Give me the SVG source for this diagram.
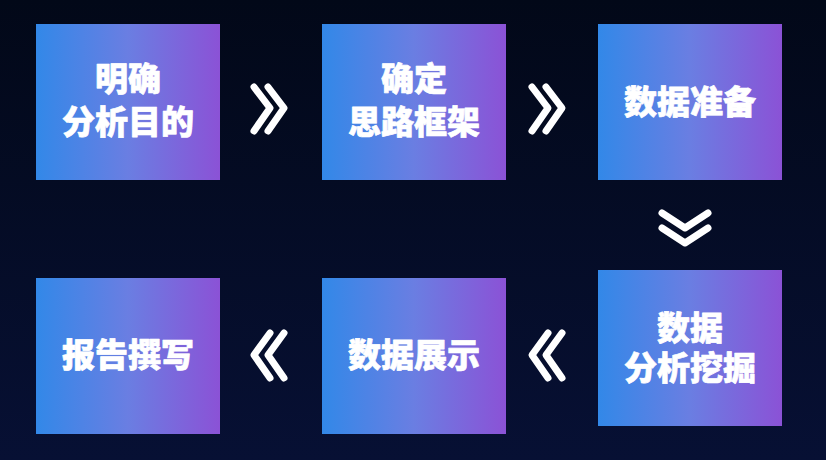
<svg xmlns="http://www.w3.org/2000/svg" width="826" height="460" viewBox="0 0 826 460">
  <defs>
    <linearGradient id="bg" x1="0" y1="0" x2="0" y2="1">
      <stop offset="0" stop-color="#020818"/>
      <stop offset="1" stop-color="#071034"/>
    </linearGradient>
    <linearGradient id="box" x1="0" y1="0" x2="1" y2="0">
      <stop offset="0" stop-color="#3288e8"/>
      <stop offset="0.5" stop-color="#6a7ee2"/>
      <stop offset="1" stop-color="#8b52d6"/>
    </linearGradient>
    <style>
      .node rect { fill: url(#box); }
      .node text { fill: #ffffff; stroke: #ffffff; stroke-width: 0.7px; stroke-linejoin: round; font-family: "Noto Sans CJK SC", "Noto Sans", sans-serif; font-weight: 900; font-size: 33px; text-anchor: middle; }
      .chev { fill: none; stroke: #ffffff; stroke-width: 7; stroke-linecap: round; stroke-linejoin: round; }
    </style>
  </defs>
  <rect x="0" y="0" width="826" height="460" fill="url(#bg)"/>

  <g id="node1" class="node">
    <rect x="36" y="24" width="184" height="156"/>
    <text x="128" y="91">明确<tspan x="128" dy="43">分析目的</tspan></text>
  </g>
  <g id="node2" class="node">
    <rect x="322" y="24" width="184" height="156"/>
    <text x="414" y="91">确定<tspan x="414" dy="43">思路框架</tspan></text>
  </g>
  <g id="node3" class="node">
    <rect x="598" y="24" width="184" height="156"/>
    <text x="690" y="114">数据准备</text>
  </g>
  <g id="node4" class="node">
    <rect x="598" y="270" width="184" height="156"/>
    <text x="690" y="340">数据<tspan x="690" dy="40">分析挖掘</tspan></text>
  </g>
  <g id="node5" class="node">
    <rect x="322" y="278" width="184" height="156"/>
    <text x="414" y="367">数据展示</text>
  </g>
  <g id="node6" class="node">
    <rect x="36" y="278" width="184" height="156"/>
    <text x="128" y="367">报告撰写</text>
  </g>

  <g id="connectors">
    <path class="chev" d="M254,87 L270,108 L254,131 M268,87 L284,108 L268,131"/>
    <path class="chev" d="M532,87 L548,108 L532,131 M546,87 L562,108 L546,131"/>
    <path class="chev" d="M662,213 L685,228 L708,213 M662,228 L685,243 L708,228"/>
    <path class="chev" d="M562,333 L546,355 L562,378 M548,333 L532,355 L548,378"/>
    <path class="chev" d="M284,333 L268,355 L284,378 M270,333 L254,355 L270,378"/>
  </g>
</svg>
